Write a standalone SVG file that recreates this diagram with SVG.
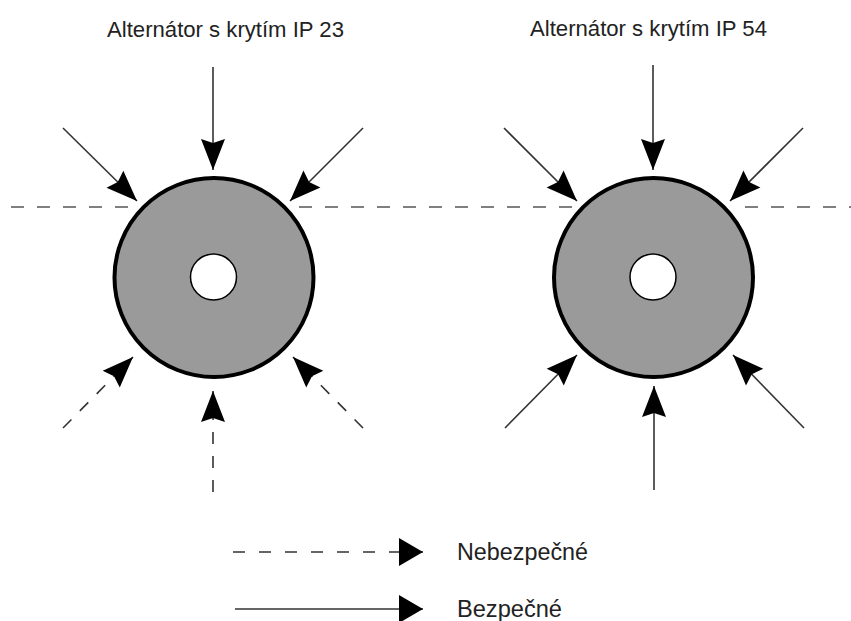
<svg xmlns="http://www.w3.org/2000/svg" width="851" height="621" viewBox="0 0 851 621">
  <style>
    .label { font-family: "Liberation Sans", Arial, sans-serif; fill: #222; }
    .title { font-size: 22px; }
    .legend-text { font-size: 23px; }
    .body { fill: #9a9a9a; stroke: #000; stroke-width: 4; }
    .hole { fill: #fff; stroke: #000; stroke-width: 1.5; }
    .axis { stroke: #555; stroke-width: 1.6; stroke-dasharray: 13 13; fill: none; }
    .safe { stroke: #333; stroke-width: 1.6; fill: none; marker-end: url(#head); }
    .unsafe { stroke: #333; stroke-width: 1.6; fill: none; stroke-dasharray: 12 12; marker-end: url(#head); }
    .key-safe { stroke: #333; stroke-width: 1.6; fill: none; marker-end: url(#keyhead); }
    .key-unsafe { stroke: #333; stroke-width: 1.6; fill: none; stroke-dasharray: 12 14; marker-end: url(#keyhead); }
  </style>
  <defs>
    <marker id="head" markerUnits="userSpaceOnUse" markerWidth="31" markerHeight="24" refX="31" refY="12" orient="auto" overflow="visible">
      <path d="M0,0 L31,12 L0,24 L4,12 z" fill="#000"/>
    </marker>
    <marker id="keyhead" markerUnits="userSpaceOnUse" markerWidth="24" markerHeight="28" refX="24" refY="14" orient="auto" overflow="visible">
      <path d="M0,0 L24,14 L0,28 z" fill="#000"/>
    </marker>
  </defs>

  <rect width="851" height="621" fill="#fff"/>

  <!-- horizontal dashed reference level -->
  <g id="level-line">
    <line class="axis" x1="11" y1="207" x2="132" y2="207"/>
    <line class="axis" x1="299" y1="207" x2="575" y2="207"/>
    <line class="axis" x1="745" y1="207" x2="851" y2="207"/>
  </g>

  <!-- IP 23 alternator -->
  <g id="alternator-ip23">
    <text class="label title" x="107" y="37" textLength="237" lengthAdjust="spacingAndGlyphs">Alternátor s krytím IP 23</text>
    <circle class="body" cx="214" cy="277.5" r="99.5"/>
    <circle class="hole" cx="213.5" cy="277" r="23"/>
  </g>

  <!-- IP 54 alternator -->
  <g id="alternator-ip54">
    <text class="label title" x="530" y="36" textLength="237" lengthAdjust="spacingAndGlyphs">Alternátor s krytím IP 54</text>
    <circle class="body" cx="653.5" cy="277.5" r="99.5"/>
    <circle class="hole" cx="653" cy="277" r="23"/>
  </g>

  <!-- legend -->
  <g id="legend">
    <line class="key-unsafe" x1="233" y1="552" x2="423" y2="552"/>
    <text class="label legend-text" x="457" y="560" textLength="131" lengthAdjust="spacingAndGlyphs">Nebezpečné</text>
    <line class="key-safe" x1="235" y1="609" x2="423" y2="609"/>
    <text class="label legend-text" x="457" y="617" textLength="105" lengthAdjust="spacingAndGlyphs">Bezpečné</text>
  </g>

  <!-- ingress arrows -->
  <g id="connectors">
    <!-- IP 23: from above -->
    <line class="safe" x1="213" y1="67" x2="213" y2="170"/>
    <line class="safe" x1="63" y1="128" x2="137" y2="201"/>
    <line class="safe" x1="363" y1="128" x2="290" y2="201"/>
    <!-- IP 23: from below -->
    <line class="unsafe" x1="63" y1="428" x2="133" y2="357"/>
    <line class="unsafe" x1="213" y1="492" x2="213" y2="391"/>
    <line class="unsafe" x1="363" y1="428" x2="293" y2="357"/>
    <!-- IP 54: from above -->
    <line class="safe" x1="653" y1="65" x2="653" y2="170"/>
    <line class="safe" x1="504" y1="128" x2="577" y2="201"/>
    <line class="safe" x1="803" y1="128" x2="730" y2="201"/>
    <!-- IP 54: from below -->
    <line class="safe" x1="505" y1="428" x2="577" y2="355"/>
    <line class="safe" x1="654" y1="490" x2="654" y2="386"/>
    <line class="safe" x1="804" y1="428" x2="733" y2="355"/>
  </g>
</svg>
